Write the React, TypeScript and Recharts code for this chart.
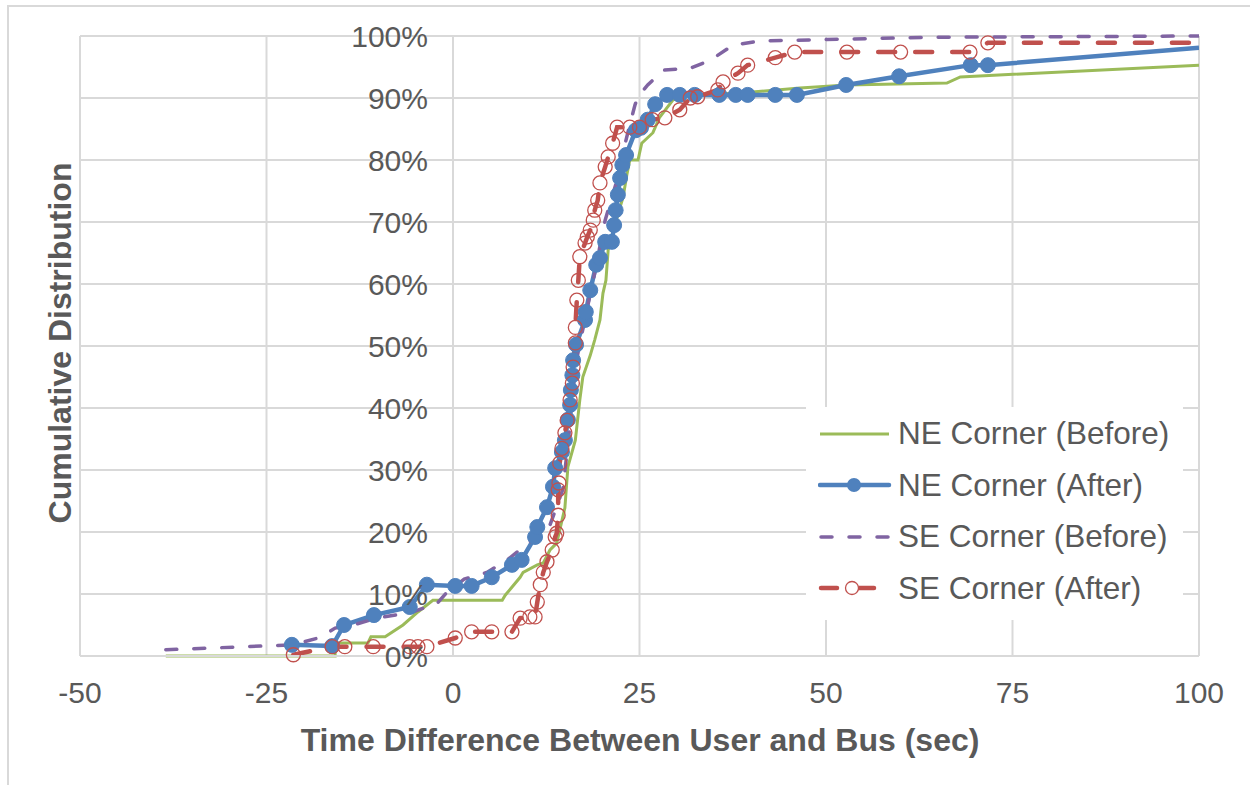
import React from 'react';
import { LineChart, Line, XAxis, YAxis, CartesianGrid, Legend } from 'recharts';

// [seconds, cumulative %]
const neBefore: [number, number][] = [
  [-38.5, 0], [-15.8, 0], [-15.8, 2.1], [-11.4, 2.1], [-11.0, 3.1], [-9.1, 3.1], [-6.7, 5.0],
  [-4.7, 7.1], [-2.7, 9.0], [6.6, 9.0], [7.0, 9.8], [9.0, 12.7], [9.4, 13.5], [11.3, 14.7],
  [12.1, 15.0], [13.0, 17.1], [13.9, 18.2], [15.0, 23.9], [15.4, 30.5], [16.4, 34.8], [17.0, 41.3],
  [17.4, 45.0], [18.4, 48.5], [19.0, 51.0], [19.7, 54.2], [20.1, 58.5], [20.5, 60.6], [20.8, 65.5],
  [21.4, 68.2], [22.4, 72.4], [22.8, 74.0], [23.3, 77.6], [23.7, 80.0], [24.8, 80.0], [25.3, 82.7],
  [26.8, 84.4], [27.7, 86.9], [29.5, 89.7], [32.2, 90.5], [38.5, 90.8], [46.5, 91.6], [52.8, 92.1],
  [66.2, 92.4], [68.0, 93.4], [100, 95.3],
];

const neAfter: [number, number][] = [
  [-21.6, 1.8], [-16.2, 1.6], [-14.6, 5.0], [-10.6, 6.6], [-5.8, 7.9], [-3.5, 11.5], [0.3, 11.3],
  [2.5, 11.3], [5.2, 12.7], [7.9, 14.7], [9.2, 15.5], [11.0, 19.2], [11.3, 20.8], [12.6, 24.0],
  [13.4, 27.3], [13.7, 30.3], [14.6, 32.9], [15.0, 34.8], [15.4, 38.1], [15.7, 40.5], [15.8, 42.9],
  [16.0, 45.3], [16.1, 47.7], [16.5, 50.2], [17.7, 54.2], [17.8, 55.5], [18.4, 59.0], [19.2, 63.1],
  [19.7, 64.2], [20.4, 66.8], [21.3, 66.8], [21.6, 69.5], [21.8, 71.9], [22.1, 74.4], [22.4, 77.1],
  [22.7, 79.2], [23.2, 80.8], [24.5, 84.8], [25.2, 85.2], [26.1, 86.5], [27.1, 89.0], [28.7, 90.5],
  [30.4, 90.5], [32.4, 90.5], [35.7, 90.5], [37.9, 90.5], [39.5, 90.5], [43.2, 90.5], [46.1, 90.5],
  [52.7, 92.1], [59.8, 93.5], [69.4, 95.3], [71.7, 95.3], [100, 98.1],
];

const seBefore: [number, number][] = [
  [-38.5, 1.0], [-21.4, 1.8], [-17.8, 3.0], [-15.8, 4.5], [-13.4, 5.0], [-10.2, 6.1], [-5.4, 7.1],
  [-2.1, 8.5], [-0.8, 10.3], [1.5, 12.4], [4.6, 13.5], [7.6, 15.8], [10.0, 18.2], [12.6, 19.8],
  [14.7, 26.8], [15.5, 35.0], [16.0, 42.0], [16.6, 48.0], [17.8, 55.0], [18.8, 60.6], [19.6, 65.5],
  [20.4, 70.3], [22.0, 76.8], [22.8, 81.3], [23.6, 85.2], [24.4, 88.9], [24.8, 90.2], [26.1, 92.1],
  [28.2, 94.5], [31.8, 94.8], [34.5, 96.1], [37.5, 98.5], [41.2, 99.2], [64.3, 99.8], [100, 100],
];

const seAfter: [number, number][] = [
  [-21.4, 0.2], [-16.2, 1.5], [-14.5, 1.5], [-10.7, 1.5], [-5.8, 1.5], [-4.7, 1.5], [-3.5, 1.5],
  [0.3, 2.9], [2.5, 3.9], [5.2, 3.9], [7.9, 3.9], [9.0, 6.1], [10.3, 6.3], [11.0, 6.3], [11.3, 8.7],
  [11.7, 11.5], [12.1, 13.5], [12.6, 15.2], [13.3, 17.1], [13.7, 19.2], [13.9, 19.8], [14.1, 22.7],
  [14.1, 26.8], [14.2, 27.9], [14.3, 31.1], [14.6, 33.5], [15.0, 36.0], [15.3, 38.0], [15.7, 41.3],
  [16.0, 44.0], [16.1, 46.6], [16.4, 50.5], [16.4, 53.0], [16.6, 57.4], [16.8, 60.6], [17.0, 64.4],
  [17.7, 66.6], [18.0, 67.6], [18.4, 68.7], [18.8, 70.3], [19.0, 71.9], [19.4, 73.5], [19.7, 76.3],
  [20.4, 78.9], [20.8, 80.5], [21.4, 82.7], [22.0, 85.3], [23.7, 85.3], [25.0, 85.3], [26.7, 86.5],
  [28.4, 86.8], [30.4, 88.1], [31.8, 90.0], [32.8, 90.2], [35.5, 91.3], [36.2, 92.6], [38.2, 94.0],
  [39.5, 95.3], [43.2, 96.5], [45.8, 97.4], [52.8, 97.4], [60.0, 97.4], [69.3, 97.4], [71.7, 98.9],
  [100, 98.9],
];

const xTicks = [-50, -25, 0, 25, 50, 75, 100];
const yTicks = [0, 10, 20, 30, 40, 50, 60, 70, 80, 90, 100];

const FONT = '"Liberation Sans", Arial, sans-serif';
const TXT = '#595959';
const GRID = '#d9d9d9';

const W = 1250;
const H = 785;
const M = { top: 36, right: 51, left: 79, bottom: 69 };
const Y_AXIS_W = 1;
const X_MIN = -50;
const X_MAX = 100;
const PLOT_LEFT = M.left + Y_AXIS_W;
// the value axis crosses at x = 0, like in the Excel original
const X_ZERO = PLOT_LEFT + ((0 - X_MIN) / (X_MAX - X_MIN)) * (W - PLOT_LEFT - M.right);

const toRows = (pts: [number, number][]) => pts.map(([t, p]) => ({ t, p }));

const BLUE = '#4F81BD';
const GREEN = '#9BBB59';
const PURPLE = '#8064A2';
const RED = '#C0504D';

function YTick({ y, payload }: any) {
  return (
    <text x={X_ZERO - 25} y={y} dy="0.36em" textAnchor="end" fontSize={30} fill={TXT} fontFamily={FONT}>
      {payload.value}%
    </text>
  );
}

// last point sits on the right frame edge where the original line was clipped, so no marker there
const blueDot = (props: any) => {
  const { cx, cy, index } = props;
  if (index === neAfter.length - 1) return <g key={`b${index}`} />;
  return <circle key={`b${index}`} cx={cx} cy={cy} r={7.5} fill={BLUE} stroke={BLUE} />;
};

const redDot = (props: any) => {
  const { cx, cy, index } = props;
  if (index === seAfter.length - 1) return <g key={`r${index}`} />;
  return <circle key={`r${index}`} cx={cx} cy={cy} r={7} fill="none" stroke={RED} strokeWidth={1.3} />;
};

const legendItems = [
  { name: 'NE Corner (Before)', kind: 'green' },
  { name: 'NE Corner (After)', kind: 'blue' },
  { name: 'SE Corner (Before)', kind: 'purple' },
  { name: 'SE Corner (After)', kind: 'red' },
];

function Sample({ kind }: { kind: string }) {
  return (
    <svg width={74} height={20} style={{ display: 'block' }}>
      {kind === 'green' && <line x1={2} y1={10} x2={71} y2={10} stroke={GREEN} strokeWidth={3} />}
      {kind === 'blue' && (
        <>
          <line x1={2} y1={10} x2={71} y2={10} stroke={BLUE} strokeWidth={4.5} strokeLinecap="round" />
          <circle cx={36} cy={10} r={7} fill={BLUE} />
        </>
      )}
      {kind === 'purple' && (
        <line x1={3} y1={10} x2={71} y2={10} stroke={PURPLE} strokeWidth={3.5} strokeDasharray="11 17" strokeLinecap="round" />
      )}
      {kind === 'red' && (
        <>
          <line x1={3} y1={10} x2={19} y2={10} stroke={RED} strokeWidth={4.5} strokeLinecap="round" />
          <line x1={40} y1={10} x2={56} y2={10} stroke={RED} strokeWidth={4.5} strokeLinecap="round" />
          <circle cx={34} cy={10} r={6.5} fill="#fff" stroke={RED} strokeWidth={1.3} />
        </>
      )}
    </svg>
  );
}

function LegendBox() {
  return (
    <div style={{ background: '#fff', width: 377, height: 213, boxSizing: 'border-box', padding: '1px 0 0 12px' }}>
      {legendItems.map((it) => (
        <div key={it.name} style={{ display: 'flex', alignItems: 'center', height: 51.5 }}>
          <Sample kind={it.kind} />
          <span style={{ fontFamily: FONT, fontSize: 31.5, color: TXT, marginLeft: 6, whiteSpace: 'nowrap' }}>{it.name}</span>
        </div>
      ))}
    </div>
  );
}

export default function App() {
  return (
    <div style={{ position: 'absolute', left: 0, top: 0, width: W, height: H, overflow: 'hidden', background: '#fff' }}>
      <div style={{ position: 'absolute', left: 7, top: 5, width: W, height: H, border: `2px solid ${GRID}` }} />
      <LineChart width={W} height={H} margin={M} style={{ position: 'absolute', left: 0, top: 0 }}>
        <CartesianGrid stroke={GRID} strokeWidth={2} horizontalValues={yTicks} verticalValues={xTicks} />
        <XAxis
          type="number"
          dataKey="t"
          domain={[X_MIN, X_MAX]}
          ticks={xTicks}
          height={60}
          tickLine={false}
          tickMargin={20}
          axisLine={{ stroke: GRID, strokeWidth: 2 }}
          tick={{ fontSize: 30, fill: TXT, fontFamily: FONT }}
          allowDataOverflow
        />
        <YAxis
          type="number"
          domain={[0, 100]}
          ticks={yTicks}
          interval={0}
          width={Y_AXIS_W}
          axisLine={false}
          tickLine={false}
          tick={(p: any) => <YTick key={`yt${p.payload.value}`} {...p} />}
        />
        <Line data={toRows(neBefore)} dataKey="p" stroke={GREEN} strokeWidth={3} dot={false} isAnimationActive={false} name="NE Corner (Before)" />
        <Line data={toRows(neAfter)} dataKey="p" stroke={BLUE} strokeWidth={4.5} dot={blueDot} isAnimationActive={false} name="NE Corner (After)" />
        <Line data={toRows(seBefore)} dataKey="p" stroke={PURPLE} strokeWidth={3.5} strokeDasharray="11 17" strokeLinecap="round" dot={false} isAnimationActive={false} name="SE Corner (Before)" />
        <Line data={toRows(seAfter)} dataKey="p" stroke={RED} strokeWidth={4.5} strokeDasharray="17 20" strokeLinecap="round" dot={redDot} isAnimationActive={false} name="SE Corner (After)" />
        <Legend
          layout="horizontal"
          verticalAlign="middle"
          align="center"
          content={() => <LegendBox />}
          wrapperStyle={{ left: 806, top: 407, width: 377, height: 213 }}
        />
      </LineChart>
      <div style={{ position: 'absolute', left: 0, top: 720, width: 1280, textAlign: 'center', fontFamily: FONT, fontWeight: 'bold', fontSize: 32, color: TXT, lineHeight: '40px' }}>
        Time Difference Between User and Bus (sec)
      </div>
      <div style={{ position: 'absolute', left: 60, top: 343, width: 0, height: 0 }}>
        <div style={{ position: 'absolute', left: -250, top: -20, width: 500, textAlign: 'center', transform: 'rotate(-90deg)', fontFamily: FONT, fontWeight: 'bold', fontSize: 32, color: TXT, lineHeight: '40px', whiteSpace: 'nowrap' }}>
          Cumulative Distribution
        </div>
      </div>
    </div>
  );
}
